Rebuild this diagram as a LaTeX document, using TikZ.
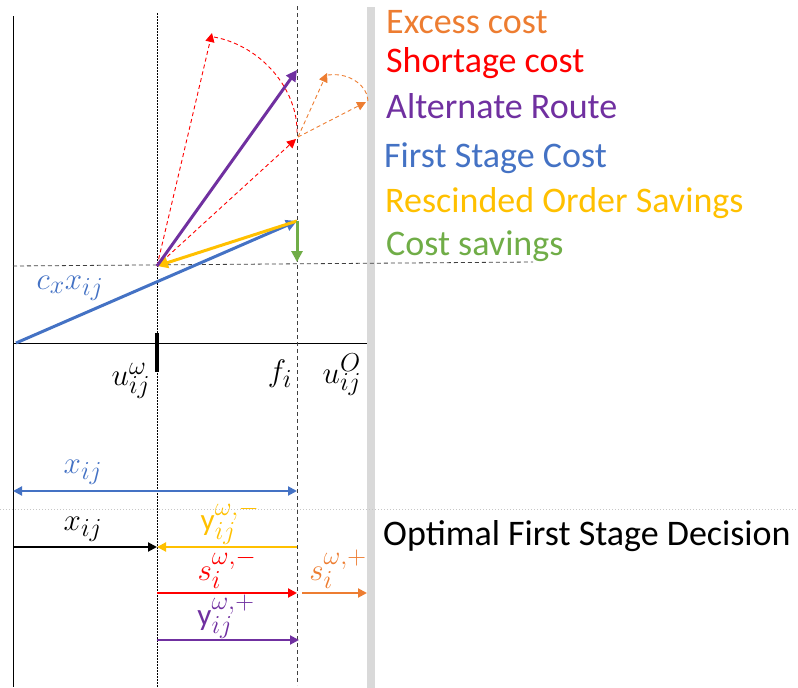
\documentclass[tikz,border=0pt]{standalone}
\usepackage{graphicx}
\usepackage{fontspec}
\setmainfont{Carlito}
\usetikzlibrary{arrows.meta}
\definecolor{cOrange}{HTML}{ED7D31}
\definecolor{cRed}{HTML}{FF0000}
\definecolor{cPurple}{HTML}{7030A0}
\definecolor{cBlue}{HTML}{4472C4}
\definecolor{cYellow}{HTML}{FFC000}
\definecolor{cGreen}{HTML}{70AD47}
\definecolor{cGray}{HTML}{D9D9D9}
\newcommand\mlab[1]{\scalebox{1.25}{$#1$}}
\begin{document}
\begin{tikzpicture}[x=1pt,y=-1pt,
  legend/.style={anchor=base west,inner sep=0pt,font=\fontsize{36}{40}\selectfont},
  mlabel/.style={inner sep=0pt,font=\Huge},
  bigtip/.style={-{Triangle[length=11pt,width=11pt]}},
  smalltip/.style={-{Triangle[length=9pt,width=9pt]}},
  vec/.style={line width=3pt,bigtip},
  hvec/.style={line width=2pt,smalltip},
  dvec/.style={line width=0.9pt,dash pattern=on 4pt off 3pt,smalltip},
  darc/.style={line width=0.9pt,dash pattern=on 4pt off 3pt},
  guide/.style={line width=0.8pt,dash pattern=on 4pt off 3pt,black!75},
  dotguide/.style={line width=0.8pt,dash pattern=on 1.5pt off 1.5pt,black}
]
\useasboundingbox (0,0) rectangle (798,688);
% coordinates
\coordinate (O) at (16,343);
\coordinate (Ytop) at (13,16);
\coordinate (Ybot) at (13,687);
\coordinate (Xend) at (367,343);
\coordinate (U) at (157,266);
\coordinate (F) at (297,221);
\coordinate (P) at (297,70);
\coordinate (R1) at (212,33);
\coordinate (R2) at (296,139);
\coordinate (Rarc) at (297,133);
\coordinate (Q) at (298,137);
\coordinate (E1) at (327,73);
\coordinate (E2) at (366,102);
\coordinate (G) at (297,262);
% gray bar
\fill[cGray] (367,7) rectangle (375,688);
% light gray dotted line
\draw[cGray!80!gray,line width=0.8pt,dash pattern=on 1pt off 2pt] (0,509) -- (798,509);
% axes
\draw[line width=1pt] (Ytop) -- (Ybot);
\draw[line width=1pt] (13,343) -- (Xend);
% guides
\draw[dotguide] (157,13) -- (157,687);
\draw[guide] (297,6) -- (297,685);
\draw[guide] (13,266) -- (533,262);
% tick
\draw[line width=3.5pt] (157,333) -- (157,372);
% top vectors
\draw[cRed,dvec] (U) -- (R1);
\draw[cRed,dvec] (U) -- (R2);
\draw[cRed,darc] (214,37) .. controls (262,46) and (298,90) .. (Rarc);
\draw[cOrange,dvec] (Q) -- (E1);
\draw[cOrange,dvec] (Q) -- (E2);
\draw[cOrange,darc] (328,75) .. controls (352,72) and (368,88) .. (368,101);
\draw[cBlue,vec] (O) -- (F);
\draw[cYellow,vec] (F) -- (U);
\draw[cGreen,vec] (F) -- (G);
\draw[cPurple,vec] (U) -- (P);
% labels on axes
\node[mlabel,text=cBlue] (cx) at (70,288) {\mlab{c_x x_{ij}}};
\node[mlabel] (uw) at (131,381) {\mlab{u^{\omega}_{ij}}};
\node[mlabel] (fi) at (280,374) {\mlab{f_i}};
\node[mlabel] (uo) at (342,375) {\mlab{u^{O}_{ij}}};
% bottom arrows
\coordinate (B1L) at (13,491);
\coordinate (B1R) at (297,491);
\draw[cBlue,line width=2pt,{Triangle[length=9pt,width=9pt]}-{Triangle[length=9pt,width=9pt]}] (B1L) -- (B1R);
\node[mlabel,text=cBlue] (xb) at (83,472) {\mlab{x_{ij}}};
\coordinate (B2L) at (13,547);
\coordinate (B2M) at (157,547);
\coordinate (B2R) at (297,547);
\draw[black,hvec] (B2L) -- (B2M);
\draw[cYellow,hvec] (B2R) -- (B2M);
\node[mlabel] (xk) at (83,529) {\mlab{x_{ij}}};
\node[mlabel,text=cYellow] (ym) at (230,522) {\mlab{\mathrm{y}^{\omega,-}_{ij}}};
\coordinate (B3L) at (157,593);
\coordinate (B3M) at (297,593);
\coordinate (B3S) at (302,593);
\coordinate (B3R) at (367,593);
\draw[cRed,hvec] (B3L) -- (B3M);
\draw[cOrange,hvec] (B3S) -- (B3R);
\node[mlabel,text=cRed] (sm) at (227,569) {\mlab{s^{\omega,-}_{i}}};
\node[mlabel,text=cOrange] (sp) at (338,569) {\mlab{s^{\omega,+}_{i}}};
\coordinate (B4L) at (157,640);
\coordinate (B4R) at (299,640);
\draw[cPurple,hvec] (B4L) -- (B4R);
\node[mlabel,text=cPurple] (yp) at (226,617) {\mlab{\mathrm{y}^{\omega,+}_{ij}}};
% legend
\node[legend,text=cOrange] (l1) at (386,33) {Excess cost};
\node[legend,text=cRed] (l2) at (386,72) {Shortage cost};
\node[legend,text=cPurple] (l3) at (386,118) {Alternate Route};
\node[legend,text=cBlue] (l4) at (384,167) {First Stage Cost};
\node[legend,text=cYellow] (l5) at (385,212) {Rescinded Order Savings};
\node[legend,text=cGreen] (l6) at (386,255) {Cost savings};
\node[legend,text=black] (l7) at (383,545) {Optimal First Stage Decision};
\end{tikzpicture}
\end{document}
